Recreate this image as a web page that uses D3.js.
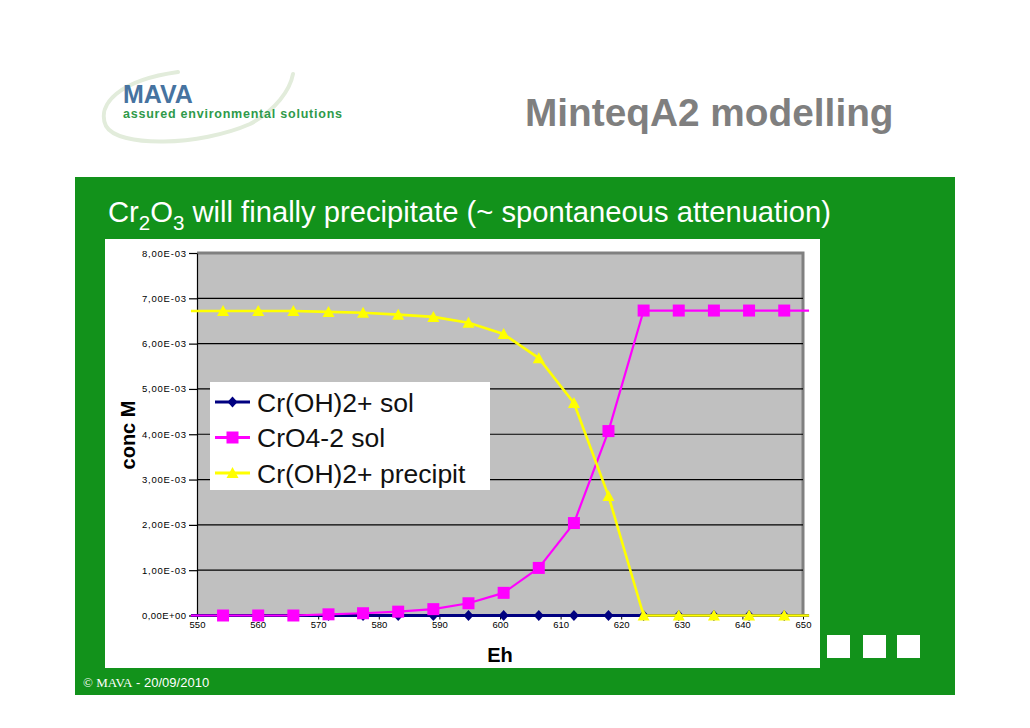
<!DOCTYPE html>
<html>
<head>
<meta charset="utf-8">
<script src="https://cdn.jsdelivr.net/npm/d3@7/dist/d3.min.js"></script>
<style>
  html, body { margin: 0; padding: 0; background: #ffffff; }
  svg { display: block; }
</style>
</head>
<body>
<svg id="chart" width="1030" height="728"></svg>
<script>
// ---- data ----
const eh = [549.0, 554.3, 560.1, 565.9, 571.7, 577.4, 583.2, 589.0, 594.8, 600.6,
            606.4, 612.2, 617.9, 623.7, 629.5, 635.3, 641.1, 646.9, 651.0];
const crOH2Sol = [0, 0, 0, 0, 0, 0, 0, 0, 0, 0, 0, 0, 0, 0, 0, 0, 0, 0, 0];
const crO4Sol = [0, 0, 0, 0, 0.000026, 0.00005, 0.000085, 0.00014, 0.00027, 0.0005,
                 0.00105, 0.00204, 0.00407, 0.00673, 0.00673, 0.00673, 0.00673, 0.00673, 0.00673];
const crOH2Precip = [0.00672, 0.00672, 0.00672, 0.00672, 0.00670, 0.00668, 0.00664, 0.00659, 0.00646, 0.00621,
                     0.00568, 0.00469, 0.00264, 0, 0, 0, 0, 0, 0];
const seriesNames = ["Cr(OH)2+ sol", "CrO4-2 sol", "Cr(OH)2+ precipit"];
const xTicks = [550, 560, 570, 580, 590, 600, 610, 620, 630, 640, 650];
const yTicks = [0, 0.001, 0.002, 0.003, 0.004, 0.005, 0.006, 0.007, 0.008];
const yTickLabels = ["0,00E+00", "1,00E-03", "2,00E-03", "3,00E-03", "4,00E-03",
                     "5,00E-03", "6,00E-03", "7,00E-03", "8,00E-03"];

// ---- page ----
const svg = d3.select("#chart");
const GREEN = "#12921b";

// logo swoosh
svg.append("path")
  .attr("d", "M 178 72 C 120 80, 96 104, 106 126 C 118 148, 200 146, 250 124 C 276 110, 290 90, 293 74")
  .attr("fill", "none").attr("stroke", "#e2ecdb").attr("stroke-width", 4).attr("stroke-linecap", "round");
svg.append("text").attr("x", 123).attr("y", 103)
  .attr("font-family", "Liberation Sans, Arial, sans-serif").attr("font-weight", "bold")
  .attr("font-size", 25).attr("fill", "#4673a0").text("MAVA");
svg.append("text").attr("x", 123).attr("y", 118)
  .attr("font-family", "Liberation Sans, Arial, sans-serif").attr("font-weight", "bold")
  .attr("font-size", 12.5).attr("fill", "#2f9a4a").attr("textLength", 219)
  .text("assured environmental solutions");

// title
svg.append("text").attr("x", 525).attr("y", 126)
  .attr("font-family", "Liberation Sans, Arial, sans-serif").attr("font-weight", "bold")
  .attr("font-size", 38.8).attr("fill", "#7f7f7f").text("MinteqA2 modelling");

// green band
svg.append("rect").attr("x", 75).attr("y", 177).attr("width", 880).attr("height", 518).attr("fill", GREEN);

// subtitle
const sub = svg.append("text").attr("x", 108).attr("y", 222)
  .attr("font-family", "Liberation Sans, Arial, sans-serif").attr("font-size", 29.2).attr("fill", "#ffffff");
sub.append("tspan").text("Cr");
sub.append("tspan").attr("font-size", 20.5).attr("dy", 8).text("2");
sub.append("tspan").attr("dy", -8).text("O");
sub.append("tspan").attr("font-size", 20.5).attr("dy", 8).text("3");
sub.append("tspan").attr("dy", -8).text(" will finally precipitate (~ spontaneous attenuation)");

// white chart area
svg.append("rect").attr("x", 105).attr("y", 239).attr("width", 715).attr("height", 429).attr("fill", "#ffffff");

// footer
const foot = svg.append("text").attr("x", 83).attr("y", 687).attr("font-size", 13).attr("fill", "#ffffff");
foot.append("tspan").attr("font-family", "Liberation Serif, Times New Roman, serif").text("© MAVA");
foot.append("tspan").attr("font-family", "Liberation Sans, Arial, sans-serif").text(" - 20/09/2010");

// squares bottom right
[827, 863, 897].forEach(x => {
  svg.append("rect").attr("x", x).attr("y", 635).attr("width", 23).attr("height", 23).attr("fill", "#ffffff");
});

// ---- chart ----
const x = d3.scaleLinear().domain([550, 650]).range([197, 803]);
const y = d3.scaleLinear().domain([0, 0.008]).range([615.5, 253]);

// plot area
svg.append("rect").attr("x", x(550)).attr("y", y(0.008))
  .attr("width", x(650) - x(550)).attr("height", y(0) - y(0.008)).attr("fill", "#c0c0c0");
// border top & right
svg.append("path")
  .attr("d", `M ${x(550)} ${y(0.008)} H ${x(650)} V ${y(0)}`)
  .attr("fill", "none").attr("stroke", "#808080").attr("stroke-width", 3);

// gridlines
svg.append("g").selectAll("line").data(yTicks.slice(1, -1)).join("line")
  .attr("x1", x(550)).attr("x2", x(650))
  .attr("y1", d => y(d)).attr("y2", d => y(d))
  .attr("stroke", "#000000").attr("stroke-width", 1.2);

// y axis
const yAxis = d3.axisLeft(y).tickValues(yTicks).tickSize(8).tickSizeOuter(0)
  .tickFormat((d, i) => yTickLabels[i]);
const gy = svg.append("g").attr("transform", `translate(${x(550)},0)`).call(yAxis);
gy.select(".domain").attr("stroke", "#000").attr("stroke-width", 1.2);
gy.selectAll(".tick line").attr("stroke", "#000").attr("stroke-width", 1.2);
gy.selectAll(".tick text").attr("font-family", "Liberation Sans, Arial, sans-serif")
  .attr("font-size", 9.5).attr("fill", "#000").attr("x", -11).attr("textLength", 44);

// x axis
const xAxis = d3.axisBottom(x).tickValues(xTicks).tickSize(4).tickSizeOuter(0).tickFormat(d3.format("d"));
const gx = svg.append("g").attr("transform", `translate(0,${y(0)})`).call(xAxis);
gx.select(".domain").attr("stroke", "#000").attr("stroke-width", 1.2);
gx.selectAll(".tick line").attr("stroke", "#000");
gx.selectAll(".tick text").attr("font-family", "Liberation Sans, Arial, sans-serif")
  .attr("font-size", 9.5).attr("fill", "#000").attr("y", 6);

// axis titles
svg.append("text").attr("x", 500).attr("y", 662).attr("text-anchor", "middle")
  .attr("font-family", "Liberation Sans, Arial, sans-serif").attr("font-weight", "bold")
  .attr("font-size", 20).attr("fill", "#000").text("Eh");
svg.append("text").attr("transform", "translate(135,435) rotate(-90)").attr("text-anchor", "middle")
  .attr("font-family", "Liberation Sans, Arial, sans-serif").attr("font-weight", "bold")
  .attr("font-size", 20).attr("fill", "#000").text("conc M");

// marker shapes
const diamond = "M 0 -5.5 L 5 0 L 0 5.5 L -5 0 Z";
const square = "M -6 -6 H 6 V 6 H -6 Z";
const triangle = "M 0 -6 L 6 5 L -6 5 Z";

const series = [
  { name: seriesNames[0], values: crOH2Sol, color: "#000080", width: 3, marker: diamond },
  { name: seriesNames[1], values: crO4Sol, color: "#ff00ff", width: 2.2, marker: square },
  { name: seriesNames[2], values: crOH2Precip, color: "#ffff00", width: 2.6, marker: triangle }
];

const line = d3.line().x(d => x(d[0])).y(d => y(d[1]));
series.forEach(s => {
  const pts = eh.map((e, i) => [e, s.values[i]]);
  svg.append("path").datum(pts).attr("d", line)
    .attr("fill", "none").attr("stroke", s.color).attr("stroke-width", s.width)
    .attr("stroke-linejoin", "round");
  svg.append("g").selectAll("path").data(pts.filter(p => p[0] >= 550 && p[0] <= 650)).join("path")
    .attr("d", s.marker)
    .attr("transform", p => `translate(${x(p[0])},${y(p[1])})`)
    .attr("fill", s.color);
});

// legend
svg.append("rect").attr("x", 210).attr("y", 382).attr("width", 280).attr("height", 108).attr("fill", "#ffffff");
series.forEach((s, i) => {
  const cy = 402 + i * 35.5;
  svg.append("line").attr("x1", 215).attr("x2", 250).attr("y1", cy).attr("y2", cy)
    .attr("stroke", s.color).attr("stroke-width", 3);
  svg.append("path").attr("d", s.marker).attr("transform", `translate(232.5,${cy})`).attr("fill", s.color);
  svg.append("text").attr("x", 257).attr("y", cy + 9.5)
    .attr("font-family", "Liberation Sans, Arial, sans-serif").attr("font-size", 26.5)
    .attr("fill", "#111").text(s.name);
});
</script>
</body>
</html>
